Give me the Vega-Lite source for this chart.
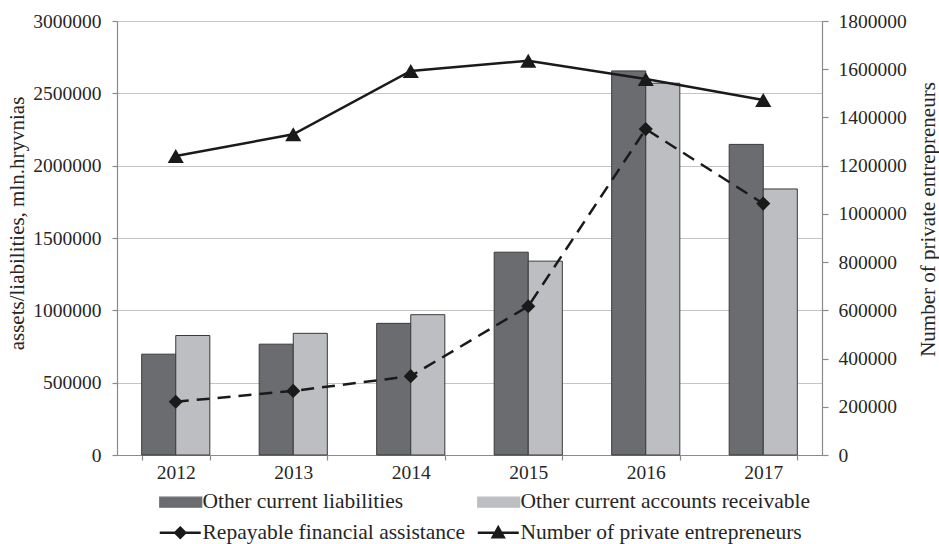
{
  "$schema": "https://vega.github.io/schema/vega-lite/v6.json",
  "width": 705,
  "height": 434,
  "autosize": {"type": "none"},
  "padding": {"left": 117, "top": 21, "right": 117, "bottom": 89},
  "background": "white",
  "config": {
    "font": "Liberation Serif",
    "view": {"stroke": null},
    "axis": {
      "labelFont": "Liberation Serif",
      "titleFont": "Liberation Serif",
      "labelColor": "#262626",
      "titleColor": "#262626",
      "titleFontWeight": "normal",
      "labelFontSize": 19.5,
      "titleFontSize": 21,
      "domainColor": "#8a8a8a",
      "tickColor": "#8a8a8a",
      "gridColor": "#c4c4c4",
      "domainWidth": 1.2,
      "tickWidth": 1.2
    }
  },
  "data": {
    "values": [
      {"year": "2012", "series": "Other current liabilities", "value": 697000},
      {"year": "2013", "series": "Other current liabilities", "value": 766000},
      {"year": "2014", "series": "Other current liabilities", "value": 910000},
      {"year": "2015", "series": "Other current liabilities", "value": 1402000},
      {"year": "2016", "series": "Other current liabilities", "value": 2655000},
      {"year": "2017", "series": "Other current liabilities", "value": 2147000},
      {"year": "2012", "series": "Other current accounts receivable", "value": 826000},
      {"year": "2013", "series": "Other current accounts receivable", "value": 841000},
      {"year": "2014", "series": "Other current accounts receivable", "value": 970000},
      {"year": "2015", "series": "Other current accounts receivable", "value": 1340000},
      {"year": "2016", "series": "Other current accounts receivable", "value": 2570000},
      {"year": "2017", "series": "Other current accounts receivable", "value": 1839000},
      {"year": "2012", "series": "Repayable financial assistance", "value": 368000},
      {"year": "2013", "series": "Repayable financial assistance", "value": 443000},
      {"year": "2014", "series": "Repayable financial assistance", "value": 545000},
      {"year": "2015", "series": "Repayable financial assistance", "value": 1028000},
      {"year": "2016", "series": "Repayable financial assistance", "value": 2253000},
      {"year": "2017", "series": "Repayable financial assistance", "value": 1738000},
      {"year": "2012", "series": "Number of private entrepreneurs", "value": 1240000},
      {"year": "2013", "series": "Number of private entrepreneurs", "value": 1330000},
      {"year": "2014", "series": "Number of private entrepreneurs", "value": 1593000},
      {"year": "2015", "series": "Number of private entrepreneurs", "value": 1635000},
      {"year": "2016", "series": "Number of private entrepreneurs", "value": 1559000},
      {"year": "2017", "series": "Number of private entrepreneurs", "value": 1472000}
    ]
  },
  "encoding": {
    "x": {
      "field": "year",
      "type": "ordinal",
      "scale": {"paddingInner": 0.42, "paddingOuter": 0.21},
      "axis": {
        "title": null,
        "labelAngle": 0,
        "tickBand": "extent",
        "tickSize": 5,
        "labelPadding": 3,
        "grid": false
      }
    },
    "color": {
      "field": "series",
      "type": "nominal",
      "scale": {
        "domain": ["Other current liabilities", "Other current accounts receivable", "Repayable financial assistance", "Number of private entrepreneurs"],
        "range": ["#6b6c70", "#bdbec2", "#1a1a1a", "#1a1a1a"]
      },
      "legend": {
        "orient": "none",
        "legendX": 37,
        "legendY": 470,
        "direction": "horizontal",
        "columns": 2,
        "title": null,
        "padding": 0,
        "rowPadding": 8,
        "columnPadding": 6,
        "labelFont": "Liberation Serif",
        "labelFontSize": 21.5,
        "labelColor": "#262626",
        "labelLimit": 0,
        "labelOffset": 27,
        "symbolSize": 100,
        "symbolStrokeWidth": 2.5,
        "encode": {
          "symbols": {
            "update": {
              "shape": {"signal": "(datum.value == 'Other current liabilities' || datum.value == 'Other current accounts receivable') ? 'M-1,-1L7.4,-1L7.4,1L-1,1Z' : (datum.value == 'Repayable financial assistance' ? 'M-1,0L7.2,0M3.1,-1L4.1,0L3.1,1L2.1,0Z' : 'M-1,0L7.2,0M3.1,-1.1L4.2,0.9L2,0.9Z')"},
              "fill": {"signal": "datum.value == 'Other current liabilities' ? '#6b6c70' : (datum.value == 'Other current accounts receivable' ? '#bdbec2' : '#1a1a1a')"},
              "stroke": {"signal": "(datum.value == 'Other current liabilities' || datum.value == 'Other current accounts receivable') ? '#333333' : '#1a1a1a'"},
              "strokeWidth": {"signal": "(datum.value == 'Other current liabilities' || datum.value == 'Other current accounts receivable') ? 1.2 : 2.5"},
              "opacity": {"value": 1},
              "fillOpacity": {"value": 1},
              "strokeOpacity": {"value": 1}
            }
          }
        }
      }
    }
  },
  "layer": [
    {
      "layer": [
        {
          "transform": [{"filter": {"field": "series", "oneOf": ["Other current liabilities", "Other current accounts receivable"]}}],
          "mark": {"type": "bar", "stroke": "#3a3a3a", "strokeWidth": 1, "opacity": 1},
          "encoding": {
            "xOffset": {
              "field": "series",
              "type": "nominal",
              "scale": {"domain": ["Other current liabilities", "Other current accounts receivable"], "paddingInner": 0, "paddingOuter": 0}
            },
            "y": {
              "field": "value",
              "type": "quantitative",
              "title": "assets/liabilities, mln.hryvnias",
              "scale": {"domain": [0, 3000000], "nice": false},
              "axis": {
                "orient": "left",
                "values": [0, 500000, 1000000, 1500000, 2000000, 2500000, 3000000],
                "format": "d",
                "grid": true,
                "tickSize": 5,
                "labelPadding": 11,
                "titleX": -100,
                "titleY": 202,
                "titleAngle": -90,
                "titleAlign": "center",
                "titleBaseline": "middle"
              }
            }
          }
        },
        {
          "transform": [{"filter": {"field": "series", "equal": "Repayable financial assistance"}}],
          "mark": {"type": "line", "strokeWidth": 2.5, "strokeDash": [13, 8]},
          "encoding": {
            "y": {"field": "value", "type": "quantitative", "title": "assets/liabilities, mln.hryvnias"}
          }
        },
        {
          "transform": [{"filter": {"field": "series", "equal": "Repayable financial assistance"}}],
          "mark": {"type": "point", "shape": "diamond", "filled": true, "size": 200, "opacity": 1},
          "encoding": {
            "y": {"field": "value", "type": "quantitative", "title": "assets/liabilities, mln.hryvnias"}
          }
        }
      ]
    },
    {
      "layer": [
        {
          "transform": [{"filter": {"field": "series", "equal": "Number of private entrepreneurs"}}],
          "mark": {"type": "line", "strokeWidth": 2.5},
          "encoding": {
            "y": {
              "field": "value",
              "type": "quantitative",
              "title": "Number of private entrepreneurs",
              "scale": {"domain": [0, 1800000], "nice": false},
              "axis": {
                "orient": "right",
                "values": [0, 200000, 400000, 600000, 800000, 1000000, 1200000, 1400000, 1600000, 1800000],
                "format": "d",
                "grid": false,
                "tickSize": 6,
                "labelPadding": 10,
                "titleX": 106,
                "titleY": 198,
                "titleAngle": -90,
                "titleAlign": "center",
                "titleBaseline": "middle"
              }
            }
          }
        },
        {
          "transform": [{"filter": {"field": "series", "equal": "Number of private entrepreneurs"}}],
          "mark": {"type": "point", "shape": "triangle-up", "filled": true, "size": 260, "opacity": 1},
          "encoding": {
            "y": {"field": "value", "type": "quantitative", "title": "Number of private entrepreneurs"}
          }
        }
      ]
    }
  ],
  "resolve": {"scale": {"y": "independent"}}
}
